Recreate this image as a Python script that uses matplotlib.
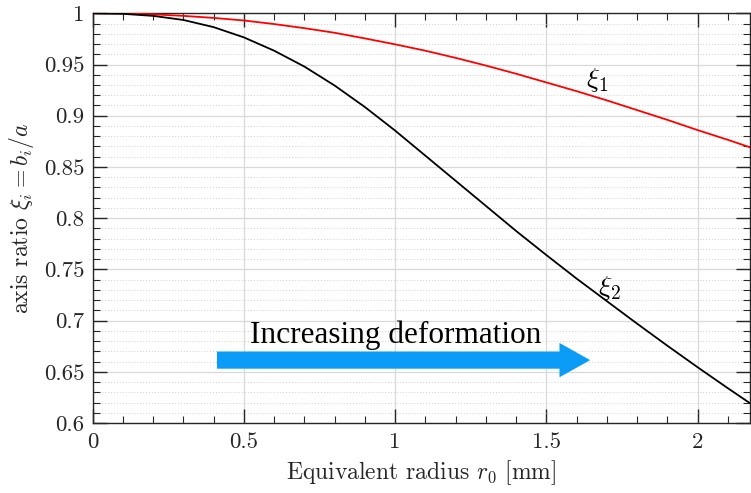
import numpy as np
import matplotlib
matplotlib.use("Agg")
import matplotlib.pyplot as plt
from matplotlib.ticker import MultipleLocator, FuncFormatter

# ---- data ----
r0 = [0.0, 0.1, 0.2, 0.3, 0.4, 0.5, 0.6, 0.7, 0.8, 0.9, 1.0, 1.1, 1.2, 1.3,
      1.4, 1.5, 1.6, 1.7, 1.8, 1.9, 2.0, 2.1, 2.175]
xi1 = [1.0, 0.9999, 0.999, 0.9975, 0.9955, 0.993, 0.9895, 0.9855, 0.981,
       0.9755, 0.9697, 0.9635, 0.9565, 0.949, 0.941, 0.9325, 0.924, 0.915,
       0.9055, 0.896, 0.886, 0.8765, 0.869]
xi2 = [1.0, 0.9995, 0.9975, 0.9935, 0.9865, 0.9765, 0.9635, 0.948, 0.9295,
       0.9085, 0.8855, 0.861, 0.8365, 0.812, 0.7875, 0.764, 0.741, 0.719,
       0.697, 0.6755, 0.6545, 0.634, 0.619]
x_ticks = [0, 0.5, 1, 1.5, 2]
y_ticks = [0.6, 0.65, 0.7, 0.75, 0.8, 0.85, 0.9, 0.95, 1.0]
curve_labels = [r"$\xi_1$", r"$\xi_2$"]
arrow_text = "Increasing deformation"

plt.rcParams['font.family'] = ['cmr10', 'DejaVu Serif']
plt.rcParams['mathtext.fontset'] = 'cm'
plt.rcParams['axes.unicode_minus'] = False

fig = plt.figure(figsize=(7.51, 4.93), dpi=100)
ax = fig.add_axes([0.1234, 0.142, 0.9993 - 0.1234, 0.973 - 0.142])

axcol = '#262626'
ax.plot(r0, xi1, color='#ff0000', lw=1.3, zorder=3, solid_joinstyle='round')
ax.plot(r0, xi2, color='black', lw=1.3, zorder=3, solid_joinstyle='round')

ax.set_xlim(0, 2.175)
ax.set_ylim(0.6, 1.0)
ax.set_xticks(x_ticks)
ax.set_yticks(y_ticks)
ax.xaxis.set_minor_locator(MultipleLocator(0.1))
ax.yaxis.set_minor_locator(MultipleLocator(0.01))
fmt = FuncFormatter(lambda v, p: ('%g' % round(v, 4)))
ax.xaxis.set_major_formatter(fmt)
ax.yaxis.set_major_formatter(fmt)

ax.grid(True, which='major', color='#d9d9d9', lw=0.9, zorder=0)
ax.yaxis.grid(True, which='minor', color='#d0d0d0', lw=0.7, ls=(0, (1, 2)), zorder=0)
ax.set_axisbelow(True)

ax.tick_params(which='both', direction='in', top=True, right=True, colors=axcol,
               labelcolor=axcol)
ax.tick_params(which='major', length=10, width=1.0, labelsize=16.5)
ax.tick_params(which='minor', length=5, width=0.8)
ax.tick_params(axis='x', which='major', pad=7)
ax.tick_params(axis='y', which='major', pad=6)
for s in ax.spines.values():
    s.set_color(axcol)
    s.set_linewidth(1.0)

ax.set_xlabel(r"Equivalent radius $r_0$ [mm]", fontsize=17, color=axcol, labelpad=4)
ax.set_ylabel(r"axis ratio $\xi_i = b_i/a$", fontsize=17, color=axcol, labelpad=6)

ax.text(1.63, 0.935, curve_labels[0], fontsize=20, ha='left', va='center', color='black')
ax.text(1.67, 0.732, curve_labels[1], fontsize=20, ha='left', va='center', color='black')

ax.annotate('', xy=(1.645, 0.6614), xytext=(0.411, 0.6614),
            arrowprops=dict(arrowstyle='simple,head_length=1.7,head_width=1.9,tail_width=0.95',
                            color='#0a9cf7', lw=0, shrinkA=0, shrinkB=0,
                            mutation_scale=13), zorder=4)
ax.text(0.52, 0.678, arrow_text, fontsize=22.5, ha='left', va='baseline', color='black',
        family=['Liberation Serif', 'DejaVu Serif'])

fig.savefig('out.png', dpi=100)
